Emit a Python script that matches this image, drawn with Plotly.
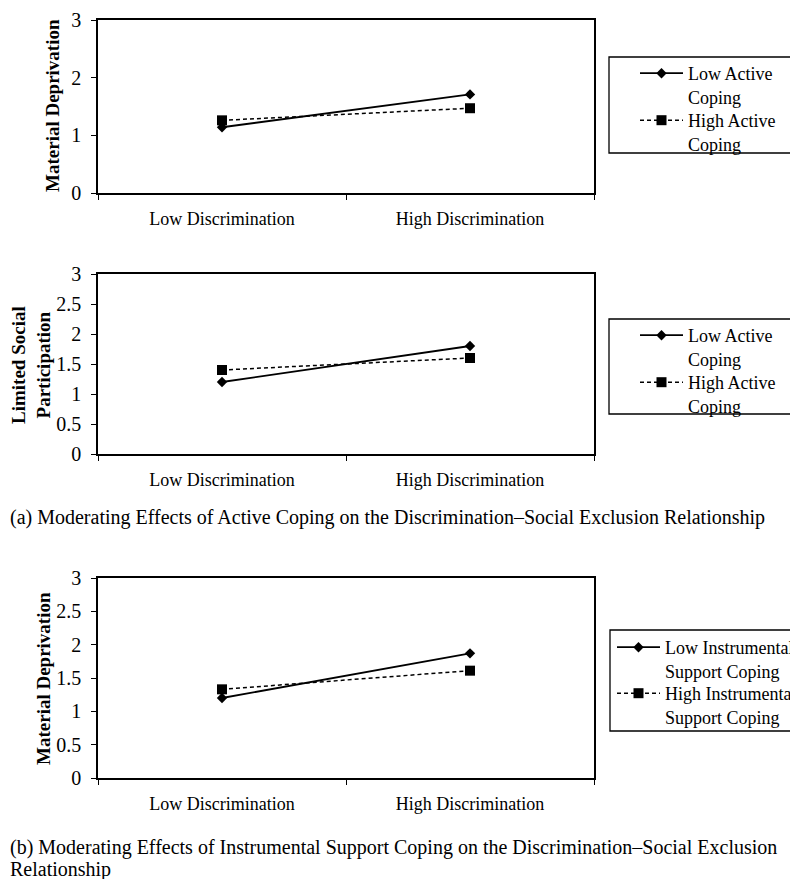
import plotly.graph_objects as go

# ---- data ----
categories = ["Low Discrimination", "High Discrimination"]

p1_low_active = [1.14, 1.71]
p1_high_active = [1.26, 1.47]

p2_low_active = [1.2, 1.8]
p2_high_active = [1.4, 1.6]

p3_low_instr = [1.2, 1.87]
p3_high_instr = [1.33, 1.61]

y_titles = ["Material Deprivation", "Limited Social<br>Participation", "Material Deprivation"]
legend_names_a = ["Low Active<br>Coping", "High Active<br>Coping"]
legend_names_b = ["Low Instrumental<br>Support Coping", "High Instrumental<br>Support Coping"]
caption_a = "(a) Moderating Effects of Active Coping on the Discrimination\u2013Social Exclusion Relationship"
caption_b1 = "(b) Moderating Effects of Instrumental Support Coping on the Discrimination\u2013Social Exclusion"
caption_b2 = "Relationship"

# page body has an 8px margin, so the figure is laid out in page px minus 8
OFF = 8
W, H = 790, 871
FONT = "Liberation Serif, Times New Roman, serif"


def px_x(p):
    return (p - OFF) / W


def px_y(p):
    return 1 - (p - OFF) / H


fig = go.Figure()

panels = [
    (p1_low_active, p1_high_active, legend_names_a, ("legend", "legend2"), "x", "y"),
    (p2_low_active, p2_high_active, legend_names_a, ("legend3", "legend4"), "x2", "y2"),
    (p3_low_instr, p3_high_instr, legend_names_b, ("legend5", "legend6"), "x3", "y3"),
]

for low, high, names, lgs, xa, ya in panels:
    fig.add_trace(go.Scatter(
        x=categories, y=low, name=names[0], mode="lines+markers",
        line=dict(color="black", width=1.8),
        marker=dict(symbol="diamond", size=8, color="black"),
        legend=lgs[0], xaxis=xa, yaxis=ya,
    ))
    fig.add_trace(go.Scatter(
        x=categories, y=high, name=names[1], mode="lines+markers",
        line=dict(color="black", width=1.5, dash="4px,3px"),
        marker=dict(symbol="square", size=10, color="black"),
        legend=lgs[1], xaxis=xa, yaxis=ya,
    ))

# plot area boxes in page px (left, top, right, bottom)
boxes = [(98, 20, 594, 193), (98, 274, 594, 454), (98, 578, 594, 778)]
dticks = [1, 0.5, 0.5]

axis_common = dict(
    showline=True, linecolor="black", linewidth=1.6, mirror=True,
    ticks="outside", ticklen=5, tickwidth=1.2, tickcolor="black",
    showgrid=False, zeroline=False, ticklabeloverflow="allow",
)

for i, (l, t, r, b) in enumerate(boxes):
    sfx = "" if i == 0 else str(i + 1)
    fig.update_layout(**{
        "xaxis" + sfx: dict(
            domain=[px_x(l), px_x(r)], anchor="y" + sfx,
            type="category", tickson="boundaries", range=[-0.5, 1.5],
            ticklabelstandoff=9,
            tickfont=dict(family=FONT, size=18, color="black"),
            **axis_common,
        ),
        "yaxis" + sfx: dict(
            domain=[px_y(b), px_y(t)], anchor="x" + sfx,
            range=[0, 3], dtick=dticks[i], ticklabelstandoff=6,
            tickfont=dict(family=FONT, size=20, color="black"),
            **axis_common,
        ),
    })

annotations = []
# y-axis titles (page px centres)
title_pos = [(52, 106), (31, 365), (43, 679)]
for txt, (cx, cy) in zip(y_titles, title_pos):
    annotations.append(dict(
        text="<b>" + txt + "</b>", x=px_x(cx), y=px_y(cy), xref="paper", yref="paper",
        xanchor="center", yanchor="middle", textangle=-90, showarrow=False,
        font=dict(family=FONT, size=19, color="black"),
    ))

for txt, cy in [(caption_a, 517), (caption_b1, 847), (caption_b2, 869)]:
    annotations.append(dict(
        text=txt, x=0, y=px_y(cy), xref="paper", yref="paper",
        xanchor="left", yanchor="middle", showarrow=False, align="left",
        font=dict(family=FONT, size=20, color="black"),
    ))

# legend frames (page px)
shapes = []
for (x0, y0, y1) in [(609, 57, 153), (609, 319, 414), (610, 630, 731)]:
    shapes.append(dict(
        type="rect", xref="paper", yref="paper",
        x0=px_x(x0), x1=px_x(x0 + 240), y0=px_y(y1), y1=px_y(y0),
        line=dict(color="black", width=1.3), fillcolor="rgba(0,0,0,0)",
    ))

legend_common = dict(
    font=dict(family=FONT, size=18, color="black"),
    bgcolor="rgba(0,0,0,0)", borderwidth=0, valign="top",
    xanchor="left", yanchor="top", itemwidth=43, tracegroupgap=0,
    itemclick=False, itemdoubleclick=False,
)

# legend item first-line centres in page px: (text-left x, y)
LEG_DY = 18
LEG_DX = 53
leg_pos = {
    "legend": (688, 73), "legend2": (688, 120),
    "legend3": (688, 335), "legend4": (688, 382),
    "legend5": (665, 647), "legend6": (665, 693),
}
legend_layout = {
    k: dict(x=px_x(tx - LEG_DX), y=px_y(cy - LEG_DY), **legend_common)
    for k, (tx, cy) in leg_pos.items()
}

fig.update_layout(
    width=W, height=H,
    margin=dict(l=0, r=0, t=0, b=0, autoexpand=False),
    paper_bgcolor="white", plot_bgcolor="white",
    showlegend=True,
    annotations=annotations,
    shapes=shapes,
    font=dict(family=FONT, color="black"),
    **legend_layout,
)

fig.write_html("out.html")
